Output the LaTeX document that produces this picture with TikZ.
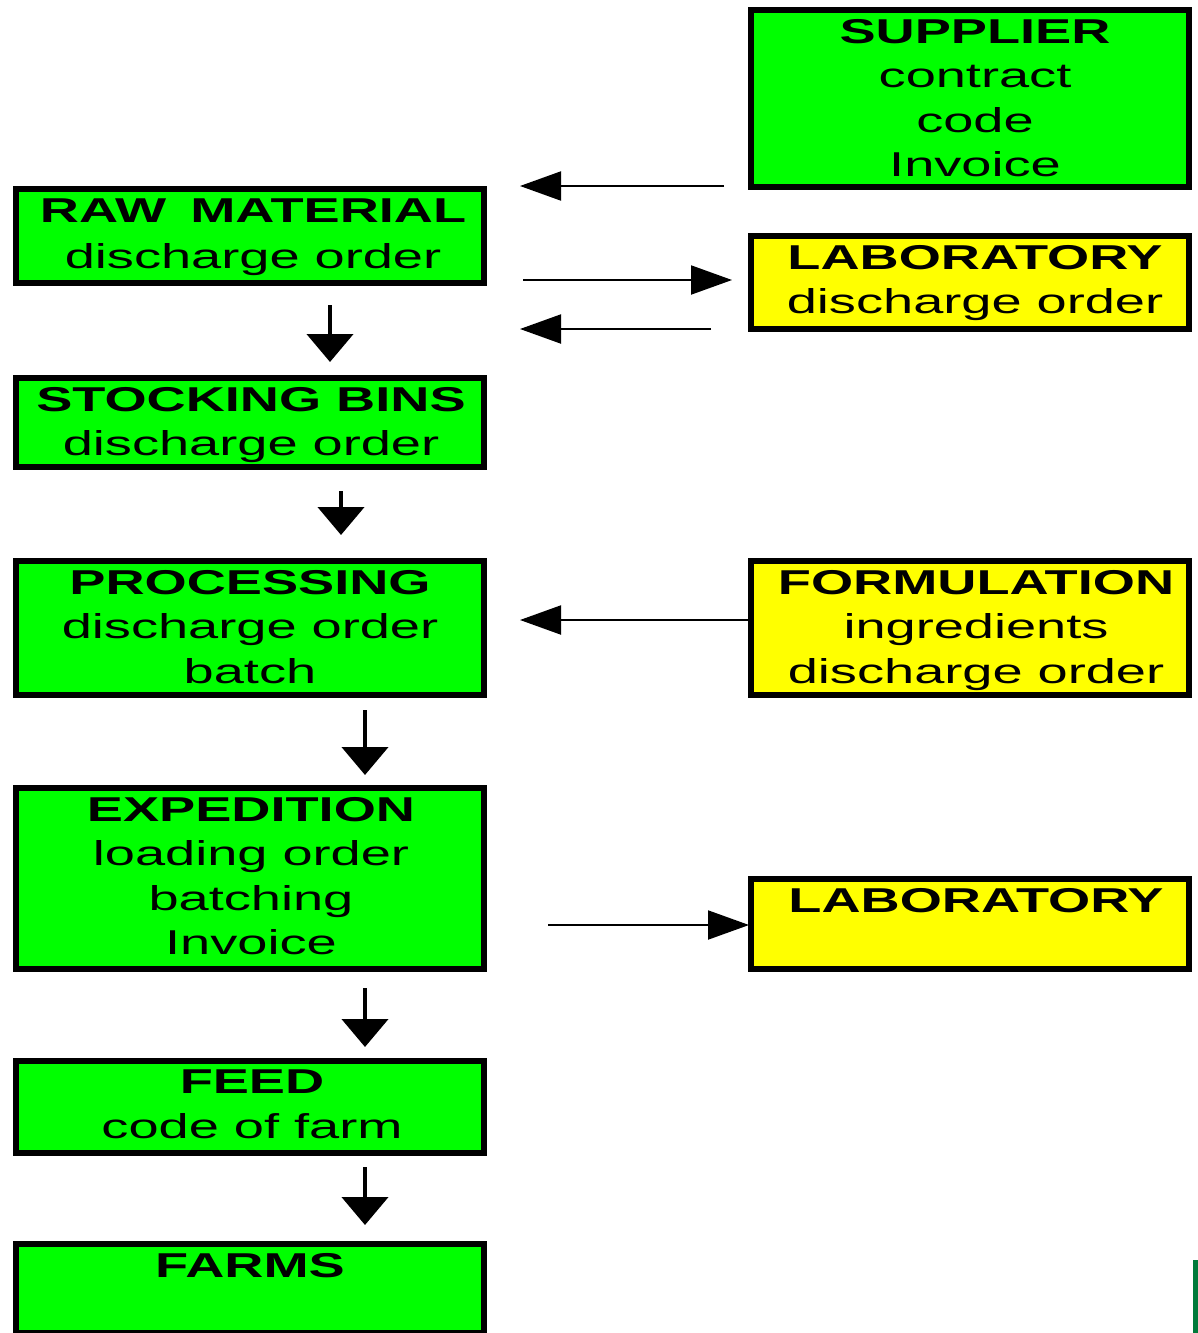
\documentclass[tikz,border=0pt]{standalone}
\usepackage{fontspec}
\setmainfont{Liberation Sans}[FakeStretch=1.57]
\usetikzlibrary{arrows.meta}
\definecolor{bgreen}{HTML}{00FF00}
\definecolor{byellow}{HTML}{FFFF00}
\definecolor{dgreen}{HTML}{007A3A}
\begin{document}
\begin{tikzpicture}[x=1pt,y=-1pt,
  box/.style={draw=black, line width=6pt, rectangle, inner sep=0pt, outer sep=3pt},
  gbox/.style={box, fill=bgreen, minimum width=468pt},
  ybox/.style={box, fill=byellow, minimum width=438pt},
  txt/.style={anchor=north, inner sep=0pt, outer sep=0pt, align=center, font=\fontsize{34.5}{44.5}\selectfont},
  harr/.style={line width=2pt, -{Triangle[length=41pt,width=29pt]}},
  darr/.style={line width=4.5pt, -{Triangle[length=28pt,width=46pt]}}]
\useasboundingbox (0,0) rectangle (1198,1333);
\clip (0,0) rectangle (1198,1333);
\fill[white] (0,0) rectangle (1198,1333);
% boxes
\node[ybox, fill=bgreen, minimum height=177pt] (sup) at (970,98.5) {};
\node[gbox, minimum height=94pt] (raw) at (250,236) {};
\node[ybox, minimum height=93pt] (lab1) at (970,282.5) {};
\node[gbox, minimum height=89pt] (stock) at (250,422.5) {};
\node[gbox, minimum height=134pt] (proc) at (250,628) {};
\node[ybox, minimum height=134pt] (form) at (970,628) {};
\node[gbox, minimum height=181pt] (exped) at (250,878.5) {};
\node[ybox, minimum height=90pt] (lab2) at (970,924) {};
\node[gbox, minimum height=92pt] (feed) at (250,1107) {};
\node[gbox, minimum height=89pt] (farms) at (250,1288.5) {};
% texts
\node[txt] (sup-t) at ([xshift=5pt,yshift=-12pt]sup.north) {{\bfseries SUPPLIER}\\contract\\code\\Invoice};
\node[txt] (raw-t) at ([xshift=3pt,yshift=-13pt]raw.north) {{\bfseries RAW\hspace{9pt} MATERIAL}\\[1.5pt]discharge order};
\node[txt] (lab1-t) at ([xshift=5pt,yshift=-12pt]lab1.north) {{\bfseries LABORATORY}\\discharge order};
\node[txt] (stock-t) at ([xshift=1pt,yshift=-12pt]stock.north) {{\bfseries STOCKING BINS}\\discharge order};
\node[txt] (proc-t) at ([yshift=-12pt]proc.north) {{\bfseries PROCESSING}\\discharge order\\batch};
\node[txt] (form-t) at ([xshift=6pt,yshift=-12pt]form.north) {{\bfseries FORMULATION}\\ingredients\\discharge order};
\node[txt] (exped-t) at ([xshift=1pt,yshift=-12pt]exped.north) {{\bfseries EXPEDITION}\\loading order\\batching\\Invoice};
\node[txt] (lab2-t) at ([xshift=6pt,yshift=-12pt]lab2.north) {{\bfseries LABORATORY}};
\node[txt] (feed-t) at ([xshift=2pt,yshift=-12pt]feed.north) {{\bfseries FEED}\\code of farm};
\node[txt] (farms-t) at ([yshift=-12pt]farms.north) {{\bfseries FARMS}};
% horizontal arrows
\draw[harr, shorten <=24pt, shorten >=33pt] (sup.west |- 0,186) -- (raw.east |- 0,186);
\draw[harr, shorten <=36pt, shorten >=16pt] (raw.east |- 0,280) -- (lab1.west |- 0,280);
\draw[harr, shorten <=37pt, shorten >=33pt] (lab1.west |- 0,329) -- (raw.east |- 0,329);
\draw[harr, shorten >=33pt] (form.west |- 0,620) -- (proc.east |- 0,620);
\draw[harr, shorten <=61pt, shorten >=-1pt] (exped.east |- 0,925) -- (lab2.west |- 0,925);
% vertical arrows
\draw[darr, shorten <=19pt, shorten >=13pt] (raw.south -| 330,0) -- (stock.north -| 330,0);
\draw[darr, shorten <=21pt, shorten >=23pt] (stock.south -| 341,0) -- (proc.north -| 341,0);
\draw[darr, shorten <=12pt, shorten >=10pt] (proc.south -| 365,0) -- (exped.north -| 365,0);
\draw[darr, shorten <=16pt, shorten >=11pt] (exped.south -| 365,0) -- (feed.north -| 365,0);
\draw[darr, shorten <=11pt, shorten >=16pt] (feed.south -| 365,0) -- (farms.north -| 365,0);
% stray bar at the right edge
\fill[dgreen] (1193,1260) rectangle (1198,1333);
\end{tikzpicture}
\end{document}
